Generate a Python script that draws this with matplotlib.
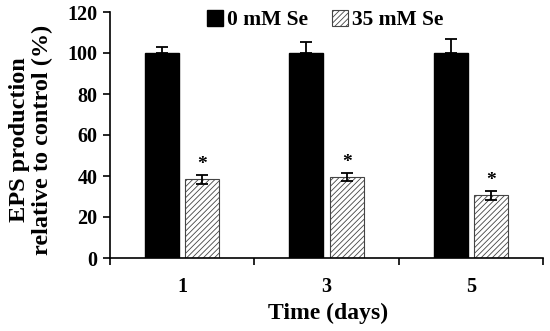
import matplotlib
matplotlib.use("Agg")
import matplotlib.pyplot as plt
import numpy as np

days = ["1", "3", "5"]
ctrl = [100, 100, 100]
ctrl_err = [3, 5.4, 7]
se35 = [38.5, 39.5, 30.5]
se35_err = [2.2, 2.0, 2.2]
labels = ["0 mM Se", "35 mM Se"]

plt.rcParams['font.family'] = ['Liberation Serif', 'DejaVu Serif']
plt.rcParams['font.weight'] = 'bold'
plt.rcParams['hatch.linewidth'] = 0.6
plt.rcParams['hatch.color'] = '#555555'

fig = plt.figure(figsize=(5.5, 3.31), dpi=100)
L, R, B, T = 110, 543, 258, 12
ax = fig.add_axes([L / 550, 1 - B / 331, (R - L) / 550, (B - T) / 331])

x = np.arange(len(days))
w = 0.235
off = 0.14
ax.bar(x - off, ctrl, w, color='black', edgecolor='black', label=labels[0],
       yerr=[[0]*3, ctrl_err], error_kw=dict(ecolor='black', capsize=4, elinewidth=1.3, capthick=1.3))
ax.bar(x + off, se35, w, color='white', edgecolor='#444444', linewidth=0.8, hatch='//////', label=labels[1],
       yerr=se35_err, error_kw=dict(ecolor='black', capsize=4, elinewidth=1.3, capthick=1.3))
for xi, v, e in zip(x, se35, se35_err):
    ax.text(xi + off, v + e + 1, "*", ha='center', va='bottom', fontsize=14, fontweight='bold')

ax.set_xlim(-0.5, 2.5)
ax.set_ylim(0, 120)
ax.set_yticks(range(0, 121, 20))
ax.set_xticks([-0.5, 0.5, 1.5, 2.5])
ax.set_xticklabels([])
ax.set_xticks(x, minor=True)
ax.set_xticklabels(days, minor=True)
ax.tick_params(axis='x', which='minor', length=0, pad=14, labelsize=14.5)
ax.tick_params(axis='x', which='major', direction='out', length=5, width=1.2)
ax.tick_params(axis='y', direction='out', length=5, width=1.2, labelsize=14.5, pad=4)
for s in ['top', 'right']:
    ax.spines[s].set_visible(False)
for s in ['left', 'bottom']:
    ax.spines[s].set_linewidth(1.2)

fig.text(328/550, 1 - 313/331, "Time (days)", ha='center', va='center', fontsize=17, fontweight='bold')
fig.text(31/550, 1 - 140/331, "EPS production\nrelative to control (%)", ha='center', va='center',
         rotation=90, fontsize=17.5, fontweight='bold', linespacing=1.1)

leg = ax.legend(loc='center', bbox_to_anchor=((325 - L) / (R - L), (B - 20) / (B - T)), ncol=2, frameon=False,
                fontsize=15.5, handlelength=0.75, handleheight=0.75, handletextpad=0.2, columnspacing=1.1,
                borderaxespad=0, borderpad=0)
for t in leg.get_texts():
    t.set_fontweight('bold')

fig.savefig("out.png", dpi=100)
